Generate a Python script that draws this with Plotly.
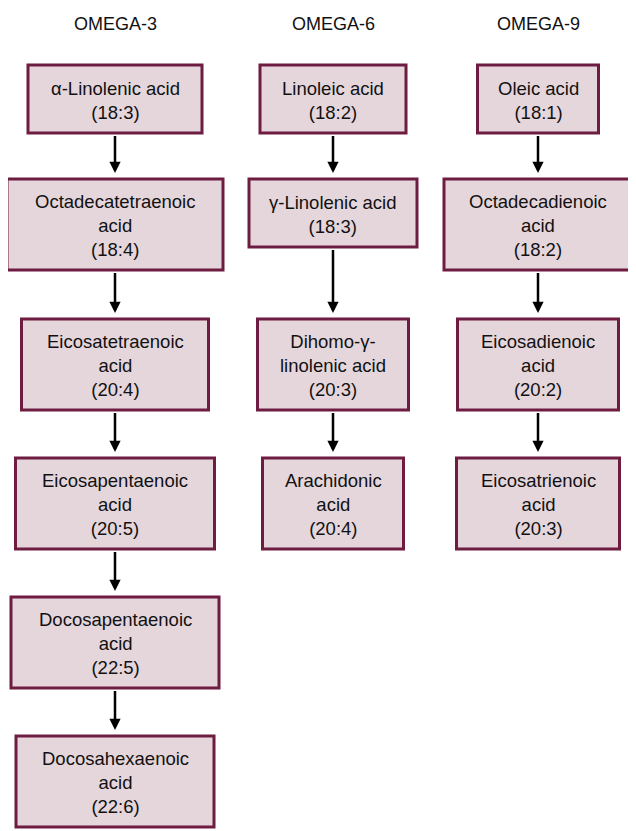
import plotly.graph_objects as go

# data: one list of compounds per family, top to bottom
families = ["OMEGA-3", "OMEGA-6", "OMEGA-9"]

omega3 = ["α-Linolenic acid<br>(18:3)",
          "Octadecatetraenoic<br>acid<br>(18:4)",
          "Eicosatetraenoic<br>acid<br>(20:4)",
          "Eicosapentaenoic<br>acid<br>(20:5)",
          "Docosapentaenoic<br>acid<br>(22:5)",
          "Docosahexaenoic<br>acid<br>(22:6)"]
omega6 = ["Linoleic acid<br>(18:2)",
          "γ-Linolenic acid<br>(18:3)",
          "Dihomo-γ-<br>linolenic acid<br>(20:3)",
          "Arachidonic<br>acid<br>(20:4)"]
omega9 = ["Oleic acid<br>(18:1)",
          "Octadecadienoic<br>acid<br>(18:2)",
          "Eicosadienoic<br>acid<br>(20:2)",
          "Eicosatrienoic<br>acid<br>(20:3)"]

# layout (pixels); the page body has an 8px margin, so the axes start at 8
W, H = 636, 831
OFF = 8
col_x = [115, 333, 538]
row_top = [65, 179, 319, 458, 597, 736]
box_w = [[174, 216, 187, 199, 208, 198],
         [146, 168, 151, 141],
         [121, 188, 161, 163]]
line_h = 23
fill_col = "#e5d6dc"
edge_col = "#6e1c41"
font = "Liberation Sans, Arial, sans-serif"

fig = go.Figure()
fig.add_trace(go.Scatter(x=[OFF, W + OFF], y=[OFF, H + OFF], mode="markers",
                         marker=dict(opacity=0), hoverinfo="none",
                         showlegend=False))

for c, (fam, items) in enumerate(zip(families, [omega3, omega6, omega9])):
    cx = col_x[c]
    fig.add_annotation(x=cx, y=24, text=fam, showarrow=False,
                       font=dict(size=18, color="#111", family=font),
                       xanchor="center", yanchor="middle")
    bottoms = []
    for i, label in enumerate(items):
        n = label.count("<br>") + 1
        h = n * line_h + 22
        top = row_top[i]
        w = box_w[c][i]
        fig.add_shape(type="rect", x0=cx - w / 2, x1=cx + w / 2,
                      y0=top, y1=top + h,
                      line=dict(color=edge_col, width=3),
                      fillcolor=fill_col, layer="below")
        fig.add_annotation(x=cx, y=top + h / 2 + 1, text=label,
                           showarrow=False,
                           font=dict(size=18.5, color="#111", family=font),
                           xanchor="center", yanchor="middle")
        if i > 0:
            fig.add_annotation(x=cx, y=top - 6, ax=cx, ay=bottoms[-1] + 1.5,
                               axref="x", ayref="y", xref="x", yref="y",
                               text="", showarrow=True, arrowhead=2,
                               arrowsize=0.9, arrowwidth=2.5,
                               arrowcolor="#000", standoff=0)
        bottoms.append(top + h)

fig.update_xaxes(range=[OFF, W + OFF], visible=False, fixedrange=True)
fig.update_yaxes(range=[H + OFF, OFF], visible=False, fixedrange=True)
fig.update_layout(width=W, height=H, margin=dict(l=0, r=0, t=0, b=0),
                  plot_bgcolor="white", paper_bgcolor="white",
                  showlegend=False)

fig.write_html("out.html")
